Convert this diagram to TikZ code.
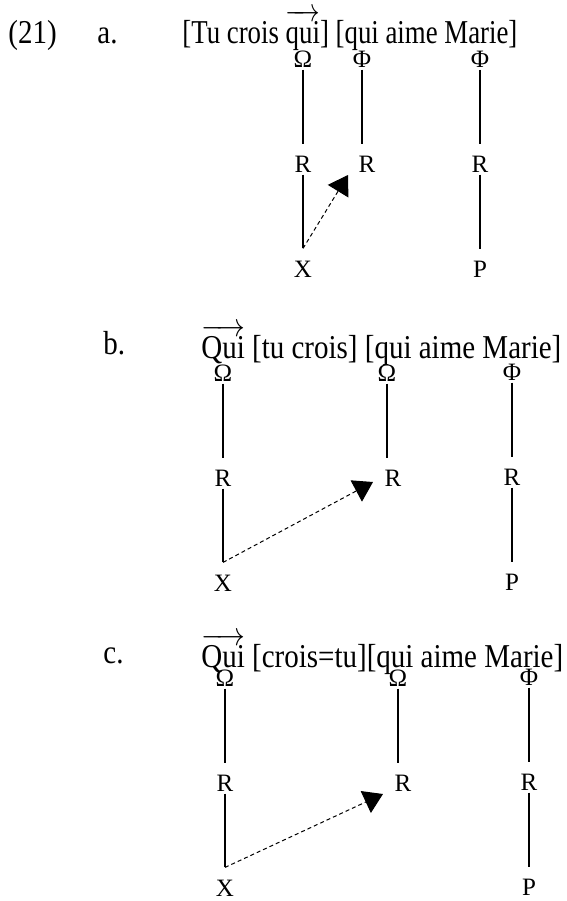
\documentclass[tikz,border=0pt]{standalone}
\usepackage{graphicx}
\usepackage{fontspec}
\setmainfont{Liberation Serif}
\usetikzlibrary{arrows.meta, positioning}

\newcommand{\tallrow}[2][1]{\scalebox{#1}[1.15]{#2}}
\newcommand{\moved}[1]{\(\overrightarrow{\rule{0pt}{10.4pt}\smash{\hbox{#1}}}\)}

\begin{document}
\begin{tikzpicture}[
    x=0.5pt, y=0.5pt,
    node distance=52.5pt,
    sent/.style={anchor=base west, inner sep=0pt, font=\fontsize{14.5}{17}\selectfont},
    lbl/.style={inner sep=1pt, font=\fontsize{12.5}{14}\selectfont},
    link/.style={line width=0.6pt, shorten >=4.5pt},
    move/.style={-{Triangle[length=9.5pt, width=12pt]}, line width=0.5pt, dash pattern=on 2pt off 1.5pt}
]
    \useasboundingbox (0,0) rectangle (567,-901);

    % (21) a.
    \node[sent] (num) at (8,-43) {\tallrow{(21)}};
    \node[sent] (la) at (97,-43) {\tallrow{a.}};
    \node[sent] (sa) at (182,-43) {\tallrow[0.925]{[Tu crois \moved{qui}] [qui aime Marie]}};

    \node[lbl] (aO1) at (303,-59) {Ω};
    \node[lbl, below of=aO1] (aR1) {R};
    \node[lbl, below of=aR1] (aX1) {X};
    \node[lbl] (aF2) at (362,-59) {Φ};
    \node[lbl, below of=aF2, xshift=2.5pt] (aR2) {R};
    \node[lbl] (aF3) at (480,-59) {Φ};
    \node[lbl, below of=aF3] (aR3) {R};
    \node[lbl, below of=aR3] (aP3) {P};

    \coordinate (aFoot) at ([yshift=5pt]aX1.north);
    \coordinate (aTip) at (348,-175);

    \draw[link] (aO1) -- (aR1);
    \draw[link, shorten >=0pt] (aR1) -- (aFoot);
    \draw[link] (aF2) -- (aF2 |- aR2.north);
    \draw[link] (aF3) -- (aR3);
    \draw[link] (aR3) -- (aP3);
    \draw[move] (aFoot) -- (aTip);

    % b.
    \node[sent] (lb) at (103,-354) {\tallrow{b.}};
    \node[sent] (sb) at (201,-358) {\tallrow{\moved{Qui} [tu crois] [qui aime Marie]}};

    \node[lbl] (bO1) at (223,-373) {Ω};
    \node[lbl, below of=bO1] (bR1) {R};
    \node[lbl, below of=bR1] (bX1) {X};
    \node[lbl] (bO2) at (387,-373) {Ω};
    \node[lbl, below of=bO2, xshift=3pt] (bR2) {R};
    \node[lbl] (bF3) at (512,-372) {Φ};
    \node[lbl, below of=bF3] (bR3) {R};
    \node[lbl, below of=bR3] (bP3) {P};

    \coordinate (bFoot) at ([yshift=5pt]bX1.north);
    \coordinate (bTip) at (373,-482);

    \draw[link] (bO1) -- (bR1);
    \draw[link, shorten >=0pt] (bR1) -- (bFoot);
    \draw[link] (bO2) -- (bO2 |- bR2.north);
    \draw[link] (bF3) -- (bR3);
    \draw[link] (bR3) -- (bP3);
    \draw[move] (bFoot) -- (bTip);

    % c.
    \node[sent] (lc) at (103,-663) {\tallrow{c.}};
    \node[sent] (sc) at (201,-667) {\tallrow{\moved{Qui} [crois=tu][qui aime Marie]}};

    \node[lbl] (cO1) at (225,-678) {Ω};
    \node[lbl, below of=cO1] (cR1) {R};
    \node[lbl, below of=cR1] (cX1) {X};
    \node[lbl] (cO2) at (398,-678) {Ω};
    \node[lbl, below of=cO2, xshift=2.5pt] (cR2) {R};
    \node[lbl] (cF3) at (529,-677) {Φ};
    \node[lbl, below of=cF3] (cR3) {R};
    \node[lbl, below of=cR3] (cP3) {P};

    \coordinate (cFoot) at ([yshift=5pt]cX1.north);
    \coordinate (cTip) at (383,-794);

    \draw[link] (cO1) -- (cR1);
    \draw[link, shorten >=0pt] (cR1) -- (cFoot);
    \draw[link] (cO2) -- (cO2 |- cR2.north);
    \draw[link] (cF3) -- (cR3);
    \draw[link] (cR3) -- (cP3);
    \draw[move] (cFoot) -- (cTip);
\end{tikzpicture}
\end{document}
